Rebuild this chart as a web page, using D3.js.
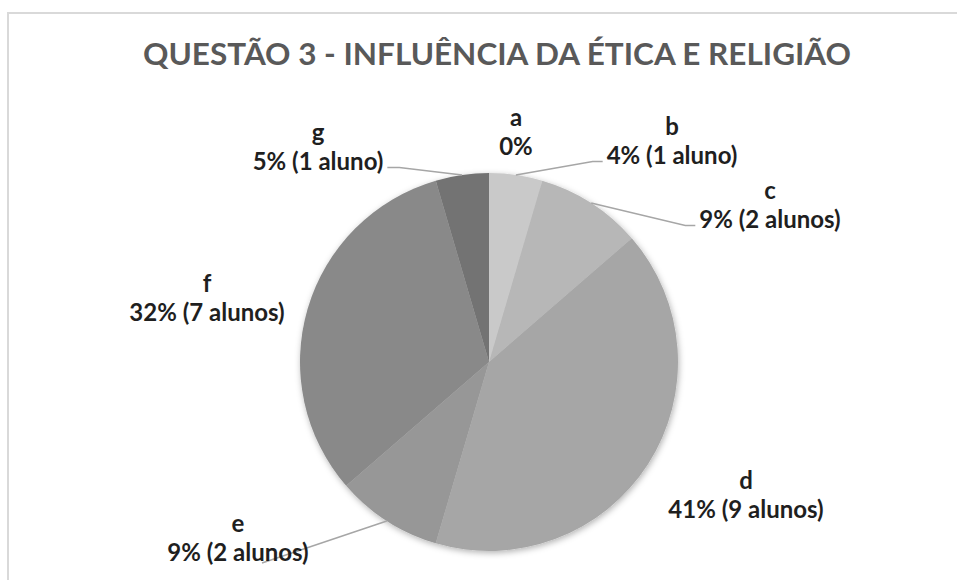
<!DOCTYPE html>
<html>
<head>
<meta charset="utf-8">
<script src="https://cdn.jsdelivr.net/npm/d3@7"></script>
<style>
  body { margin: 0; background: #fff; }
  svg { display: block; }
</style>
</head>
<body>
<svg width="957" height="580"></svg>
<script>
// data
var categories = ["a", "b", "c", "d", "e", "f", "g"];
var alunos = [0, 1, 2, 9, 2, 7, 1];
var percentLabels = ["0%", "4% (1 aluno)", "9% (2 alunos)", "41% (9 alunos)", "9% (2 alunos)", "32% (7 alunos)", "5% (1 aluno)"];
var title = "QUESTÃO 3 - INFLUÊNCIA DA ÉTICA E RELIGIÃO";

// layout
var cx = 489, cy = 362, radius = 189;
var colors = ["#d6d6d6", "#c9c9c9", "#b7b7b7", "#a6a6a6", "#979797", "#898989", "#737373"];
// label centre relative to pie centre, and which side the leader line hits
var labelLayout = [
  {dx: 27, dy: -230, leader: "none"},
  {dx: 183, dy: -221, leader: "left"},
  {dx: 281, dy: -157, leader: "left"},
  {dx: 257, dy: 133, leader: "none"},
  {dx: -251, dy: 176, leader: "under"},
  {dx: -282, dy: -64, leader: "none"},
  {dx: -171, dy: -215, leader: "right"}
];

var svg = d3.select("svg");

var defs = svg.append("defs");
var f = defs.append("filter").attr("id", "shadow")
    .attr("x", "-10%").attr("y", "-10%").attr("width", "120%").attr("height", "120%");
f.append("feDropShadow")
    .attr("dx", 1).attr("dy", 2)
    .attr("stdDeviation", 3)
    .attr("flood-color", "#000")
    .attr("flood-opacity", 0.3);

// chart border
svg.append("rect")
    .attr("x", 8).attr("y", 13)
    .attr("width", 1000).attr("height", 700)
    .attr("fill", "none")
    .attr("stroke", "#d9d9d9")
    .attr("stroke-width", 2);

svg.append("text")
    .attr("x", 497).attr("y", 65)
    .attr("text-anchor", "middle")
    .attr("textLength", 708)
    .attr("lengthAdjust", "spacingAndGlyphs")
    .style("font", "bold 30px Lato, 'Open Sans', sans-serif")
    .style("fill", "#595959")
    .text(title);

var data = categories.map(function(c, i) {
  return {cat: c, value: alunos[i], label: percentLabels[i], color: colors[i], layout: labelLayout[i]};
});

var pie = d3.pie().sort(null).value(function(d) { return d.value; });
var arc = d3.arc().innerRadius(0).outerRadius(radius);
var arcs = pie(data);

var g = svg.append("g").attr("transform", "translate(" + cx + "," + cy + ")");

g.append("g")
    .attr("filter", "url(#shadow)")
    .selectAll("path")
    .data(arcs)
    .enter().append("path")
    .attr("d", arc)
    .attr("fill", function(d) { return d.data.color; });

// labels
var fontSize = 24;
var lbl = g.selectAll(".lbl")
    .data(arcs)
    .enter().append("g")
    .attr("class", "lbl");

lbl.append("text")
    .attr("x", function(d) { return d.data.layout.dx; })
    .attr("y", function(d) { return d.data.layout.dy - 14.5; })
    .attr("dy", "0.35em")
    .attr("text-anchor", "middle")
    .style("font", "bold " + fontSize + "px Lato, 'Open Sans', sans-serif")
    .style("fill", "#1f1f1f")
    .text(function(d) { return d.data.cat; });

lbl.append("text")
    .attr("class", "line2")
    .attr("x", function(d) { return d.data.layout.dx; })
    .attr("y", function(d) { return d.data.layout.dy + 14.5; })
    .attr("dy", "0.35em")
    .attr("text-anchor", "middle")
    .style("font", "bold " + fontSize + "px Lato, 'Open Sans', sans-serif")
    .style("fill", "#1f1f1f")
    .text(function(d) { return d.data.label; });

// leader lines, from the slice edge at its mid angle to the label
lbl.each(function(d) {
  var L = d.data.layout;
  if (L.leader === "none") return;
  var mid = (d.startAngle + d.endAngle) / 2;
  var sx = Math.sin(mid) * radius, sy = -Math.cos(mid) * radius;
  var w = d3.select(this).select(".line2").node().getComputedTextLength();
  var ly = L.dy + 14.5 + 6;
  var pts;
  if (L.leader === "left") {
    var ex = L.dx - w / 2 - 4;
    pts = [[sx, sy], [ex - 10, ly], [ex, ly]];
  } else if (L.leader === "right") {
    var ex2 = L.dx + w / 2 + 4;
    pts = [[sx, sy], [ex2 + 12, ly], [ex2, ly]];
  } else {
    pts = [[sx, sy], [L.dx + 24, L.dy + 25]];
  }
  d3.select(this).insert("path", "text")
      .attr("d", d3.line()(pts))
      .attr("fill", "none")
      .attr("stroke", "#a6a6a6")
      .attr("stroke-width", 1.5);
});
</script>
</body>
</html>
